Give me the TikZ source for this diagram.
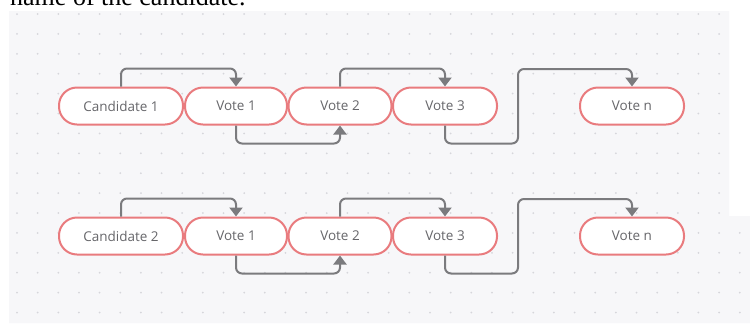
\documentclass[tikz,border=0pt]{standalone}
\usepackage{fontspec}
\setmainfont{Liberation Serif}
\newfontfamily\pillfont{Open Sans}
\usetikzlibrary{arrows.meta}
\definecolor{pillred}{HTML}{E97B7E}
\definecolor{linkgray}{HTML}{7B7B7E}
\definecolor{textgray}{HTML}{66666A}
\definecolor{bggray}{HTML}{F7F7F9}
\definecolor{dotgray}{HTML}{D6D6DB}

\begin{document}
\begin{tikzpicture}[x=1pt,y=-1pt]
\tikzstyle{every node}+=[inner sep=0pt]
\tikzstyle{pill}=[draw=pillred, line width=2pt, fill=white, rounded corners=18pt, minimum height=37pt, font=\pillfont\fontsize{13.5}{15}\selectfont, text=textgray]
\tikzstyle{link}=[draw=linkgray, line width=2pt, rounded corners=6pt, -{Triangle[width=13pt,length=9pt]}]
\useasboundingbox (0,0) rectangle (750,325);
\fill [white] (0,0) rectangle (750,325);
\fill [bggray] (9,11) -- (729,11) -- (729,216) -- (750,216) -- (750,323) -- (9,323) -- cycle;
\begin{scope}
\clip (9,11) -- (729,11) -- (729,216) -- (750,216) -- (750,323) -- (9,323) -- cycle;
\foreach \i in {0,...,35}
  \foreach \j in {0,...,15}
    \fill [dotgray] (17+20.65*\i,14+19.9*\j) circle (1);
\end{scope}
\node [anchor=base west, font=\fontsize{26}{28}\selectfont] (caption) at (10,5.5) {name of the candidate.};
% first candidate
\node [pill, minimum width=124pt] (c1) at (121,106) {Candidate 1};
\node [pill, minimum width=102pt] (v11) at (236,106) {Vote 1};
\node [pill, minimum width=103pt] (v12) at (340,106) {Vote 2};
\node [pill, minimum width=104pt] (v13) at (445,106) {Vote 3};
\node [pill, minimum width=104pt] (v1n) at (632,106) {Vote n};
\coordinate (k1) at (518,69);
\draw [link] (c1.north) -- ++(0,-18) -| (v11.north);
\draw [link] (v11.south) -- ++(0,18) -| (v12.south);
\draw [link] (v12.north) -- ++(0,-18) -| (v13.north);
\draw [link] (v13.south) -- ++(0,18) -| (k1) -| (v1n.north);
% second candidate
\node [pill, minimum width=124pt] (c2) at (121,236) {Candidate 2};
\node [pill, minimum width=102pt] (v21) at (236,236) {Vote 1};
\node [pill, minimum width=103pt] (v22) at (340,236) {Vote 2};
\node [pill, minimum width=104pt] (v23) at (445,236) {Vote 3};
\node [pill, minimum width=104pt] (v2n) at (632,236) {Vote n};
\coordinate (k2) at (518,199);
\draw [link] (c2.north) -- ++(0,-18) -| (v21.north);
\draw [link] (v21.south) -- ++(0,18) -| (v22.south);
\draw [link] (v22.north) -- ++(0,-18) -| (v23.north);
\draw [link] (v23.south) -- ++(0,18) -| (k2) -| (v2n.north);
\end{tikzpicture}
\end{document}
